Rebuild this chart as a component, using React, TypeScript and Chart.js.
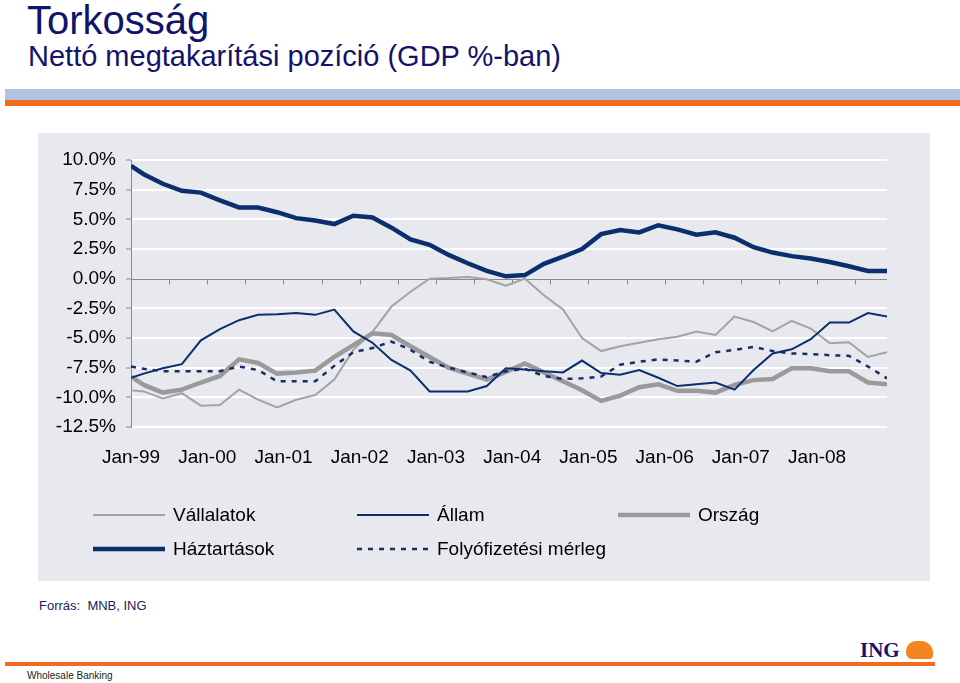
import React, { useEffect, useRef } from "react";
import { Chart, registerables } from "chart.js";

Chart.register(...registerables);

// Months since Jan-1999 for each quarterly observation
const MONTHS = [0, 2, 5, 8, 11, 14, 17, 20, 23, 26, 29, 32, 35, 38, 41, 44, 47, 50, 53, 56, 59, 62, 65, 68, 71, 74, 77, 80, 83, 86, 89, 92, 95, 98, 101, 104, 107, 110, 113, 116, 119];
const YEAR_LABELS = ["Jan-99", "Jan-00", "Jan-01", "Jan-02", "Jan-03", "Jan-04", "Jan-05", "Jan-06", "Jan-07", "Jan-08"];

const VALLALATOK = [-9.4, -9.5, -10.1, -9.65, -10.7, -10.65, -9.35, -10.2, -10.85, -10.2, -9.8, -8.5, -6.0, -4.5, -2.35, -1.1, 0.0, 0.05, 0.15, -0.05, -0.6, 0.0, -1.4, -2.6, -5.0, -6.1, -5.7, -5.4, -5.1, -4.9, -4.45, -4.75, -3.2, -3.65, -4.45, -3.55, -4.2, -5.45, -5.35, -6.6, -6.2];
const ALLAM = [-8.35, -8.0, -7.55, -7.2, -5.2, -4.25, -3.5, -3.05, -3.0, -2.9, -3.05, -2.6, -4.45, -5.4, -6.85, -7.75, -9.5, -9.5, -9.5, -9.05, -7.55, -7.65, -7.8, -7.9, -6.9, -7.95, -8.1, -7.7, -8.35, -9.05, -8.9, -8.75, -9.35, -7.7, -6.3, -5.95, -5.1, -3.7, -3.7, -2.9, -3.2];
const ORSZAG = [-8.25, -8.95, -9.6, -9.35, -8.75, -8.2, -6.8, -7.1, -8.0, -7.9, -7.75, -6.6, -5.6, -4.6, -4.75, -5.7, -6.6, -7.5, -8.0, -8.5, -7.85, -7.15, -7.9, -8.65, -9.4, -10.3, -9.85, -9.15, -8.9, -9.45, -9.45, -9.6, -8.95, -8.55, -8.45, -7.55, -7.55, -7.8, -7.8, -8.75, -8.9];
const HAZTARTASOK = [9.5, 8.8, 8.0, 7.4, 7.25, 6.6, 6.0, 6.0, 5.6, 5.1, 4.9, 4.6, 5.3, 5.15, 4.3, 3.3, 2.85, 2.0, 1.3, 0.65, 0.2, 0.3, 1.25, 1.85, 2.5, 3.75, 4.1, 3.9, 4.5, 4.15, 3.7, 3.9, 3.45, 2.65, 2.2, 1.9, 1.7, 1.4, 1.05, 0.65, 0.65];
const FOLYOFIZETESI = [-7.4, -7.6, -7.8, -7.8, -7.8, -7.8, -7.4, -7.7, -8.65, -8.65, -8.65, -7.35, -6.2, -5.85, -5.3, -6.0, -7.0, -7.5, -7.9, -8.3, -7.8, -7.6, -8.2, -8.45, -8.4, -8.25, -7.25, -7.0, -6.8, -6.9, -7.0, -6.2, -6.0, -5.75, -6.1, -6.3, -6.35, -6.45, -6.5, -7.4, -8.4];

const SERIES_NAMES = ["Vállalatok", "Állam", "Ország", "Háztartások", "Folyófizetési mérleg"];

const NAVY = "#0b2f6e";
const FONT = "'Liberation Sans', Arial, sans-serif";

const toPoints = (vals: number[]) => vals.map((v, i) => ({ x: MONTHS[i], y: v }));

// legend layout (canvas coordinates)
const LEGEND_COLS = [55, 319, 580];
const LEGEND_ROWS = [382, 416];
const LEGEND_SLOTS = [
  [0, 0],
  [1, 0],
  [2, 0],
  [0, 1],
  [1, 1],
];

const zeroAxisPlugin = {
  id: "zeroAxis",
  beforeDatasetsDraw(chart: any) {
    const { ctx, chartArea, scales } = chart;
    const x = scales.x;
    const y = scales.y;
    const y0 = Math.round(y.getPixelForValue(0)) + 0.5;
    ctx.save();
    ctx.strokeStyle = "#8a8a8a";
    ctx.lineWidth = 1;
    ctx.beginPath();
    ctx.moveTo(chartArea.left, y0);
    ctx.lineTo(chartArea.right, y0);
    for (let m = 6; m < x.max; m += 6) {
      const px = Math.round(x.getPixelForValue(m)) + 0.5;
      ctx.moveTo(px, y0);
      ctx.lineTo(px, y0 + 5);
    }
    ctx.stroke();
    ctx.restore();
  },
};

const legendPlugin = {
  id: "customLegend",
  afterDraw(chart: any) {
    const { ctx } = chart;
    ctx.save();
    chart.data.datasets.forEach((ds: any, i: number) => {
      const [c, r] = LEGEND_SLOTS[i];
      const x = LEGEND_COLS[c];
      const y = LEGEND_ROWS[r];
      ctx.strokeStyle = ds.borderColor;
      ctx.lineWidth = ds.borderWidth;
      ctx.setLineDash(ds.borderDash || []);
      ctx.lineCap = "butt";
      ctx.beginPath();
      ctx.moveTo(x, y);
      ctx.lineTo(x + 72, y);
      ctx.stroke();
      ctx.setLineDash([]);
      ctx.fillStyle = "#000";
      ctx.font = `19px ${FONT}`;
      ctx.textBaseline = "middle";
      ctx.textAlign = "left";
      ctx.fillText(ds.label, x + 80, y + 1);
    });
    ctx.restore();
  },
};

function NetSavingsChart() {
  const ref = useRef<HTMLCanvasElement | null>(null);
  useEffect(() => {
    if (!ref.current) return;
    const chart = new Chart(ref.current, {
      type: "line",
      data: {
        datasets: [
          {
            label: SERIES_NAMES[0],
            data: toPoints(VALLALATOK),
            borderColor: "#a3a3a3",
            borderWidth: 2,
            pointRadius: 0,
            tension: 0,
            order: 4,
          },
          {
            label: SERIES_NAMES[1],
            data: toPoints(ALLAM),
            borderColor: NAVY,
            borderWidth: 2,
            pointRadius: 0,
            tension: 0,
            order: 2,
          },
          {
            label: SERIES_NAMES[2],
            data: toPoints(ORSZAG),
            borderColor: "#9a9a9a",
            borderWidth: 4.5,
            pointRadius: 0,
            tension: 0,
            order: 3,
          },
          {
            label: SERIES_NAMES[3],
            data: toPoints(HAZTARTASOK),
            borderColor: NAVY,
            borderWidth: 4.5,
            pointRadius: 0,
            tension: 0,
            order: 0,
          },
          {
            label: SERIES_NAMES[4],
            data: toPoints(FOLYOFIZETESI),
            borderColor: "#1b2c66",
            borderWidth: 2.5,
            borderDash: [5, 6],
            pointRadius: 0,
            tension: 0,
            order: 1,
          },
        ] as any,
      },
      options: {
        animation: false,
        responsive: false,
        events: [],
        layout: { padding: { top: 27, right: 43, bottom: 114, left: 0 } },
        plugins: { legend: { display: false }, tooltip: { enabled: false }, title: { display: false } },
        scales: {
          x: {
            type: "linear",
            min: 0,
            max: 119,
            grid: { display: false, drawTicks: false },
            border: { display: false },
            afterFit: (s: any) => {
              s.height = 40;
            },
            ticks: {
              stepSize: 12,
              autoSkip: false,
              maxRotation: 0,
              includeBounds: false,
              padding: 19,
              color: "#000",
              font: { family: FONT, size: 19 },
              callback: (v: any) => YEAR_LABELS[Math.round(Number(v) / 12)] ?? "",
            },
          },
          y: {
            min: -12.5,
            max: 10,
            afterFit: (s: any) => {
              s.width = 93;
            },
            grid: {
              color: (c: any) => (c.tick && Math.abs(c.tick.value) < 1e-9 ? "rgba(0,0,0,0)" : "#ffffff"),
              lineWidth: 2,
              tickColor: "#8a8a8a",
              tickWidth: 1,
              tickLength: 5,
            },
            border: { display: true, color: "#8a8a8a", width: 1 },
            ticks: {
              stepSize: 2.5,
              padding: 10,
              color: "#000",
              font: { family: FONT, size: 19 },
              callback: (v: any) => Number(v).toFixed(1) + "%",
            },
          },
        },
      },
      plugins: [zeroAxisPlugin, legendPlugin],
    });
    return () => chart.destroy();
  }, []);
  return <canvas ref={ref} width={892} height={448} style={{ display: "block", width: 892, height: 448 }} />;
}

export default function App() {
  return (
    <div style={{ position: "absolute", left: 0, top: 0, width: 960, height: 683, background: "#fff", overflow: "hidden", fontFamily: FONT }}>
      <div style={{ position: "absolute", left: 27, top: 0, fontSize: 40, lineHeight: "40px", color: "#12136a", whiteSpace: "nowrap" }}>Torkosság</div>
      <div style={{ position: "absolute", left: 28, top: 42, fontSize: 29, lineHeight: "29px", color: "#12136a", whiteSpace: "nowrap" }}>
        Nettó megtakarítási pozíció (GDP %-ban)
      </div>
      <div style={{ position: "absolute", left: 5, top: 89, width: 955, height: 11, background: "#b1c3df" }} />
      <div style={{ position: "absolute", left: 5, top: 100, width: 955, height: 6, background: "#f26b21" }} />
      <div style={{ position: "absolute", left: 38, top: 133, width: 892, height: 448, background: "#e7e9ee" }}>
        <NetSavingsChart />
      </div>
      <div style={{ position: "absolute", left: 39, top: 598, fontSize: 13, lineHeight: "15px", color: "#1b1b5e", whiteSpace: "pre" }}>Forrás:  MNB, ING</div>
      <div style={{ position: "absolute", left: 860, top: 640, fontSize: 21, lineHeight: "21px", fontWeight: 700, color: "#14146a", fontFamily: "'Liberation Serif', 'DejaVu Serif', serif" }}>ING</div>
      <div style={{ position: "absolute", left: 906, top: 641, width: 27, height: 18, background: "#f5851f", borderRadius: "10px 12px 4px 6px" }} />
      <div style={{ position: "absolute", left: 5, top: 662, width: 930, height: 4, background: "#f26b21" }} />
      <div style={{ position: "absolute", left: 27, top: 670, fontSize: 10, lineHeight: "12px", color: "#222", whiteSpace: "nowrap" }}>Wholesale Banking</div>
    </div>
  );
}
